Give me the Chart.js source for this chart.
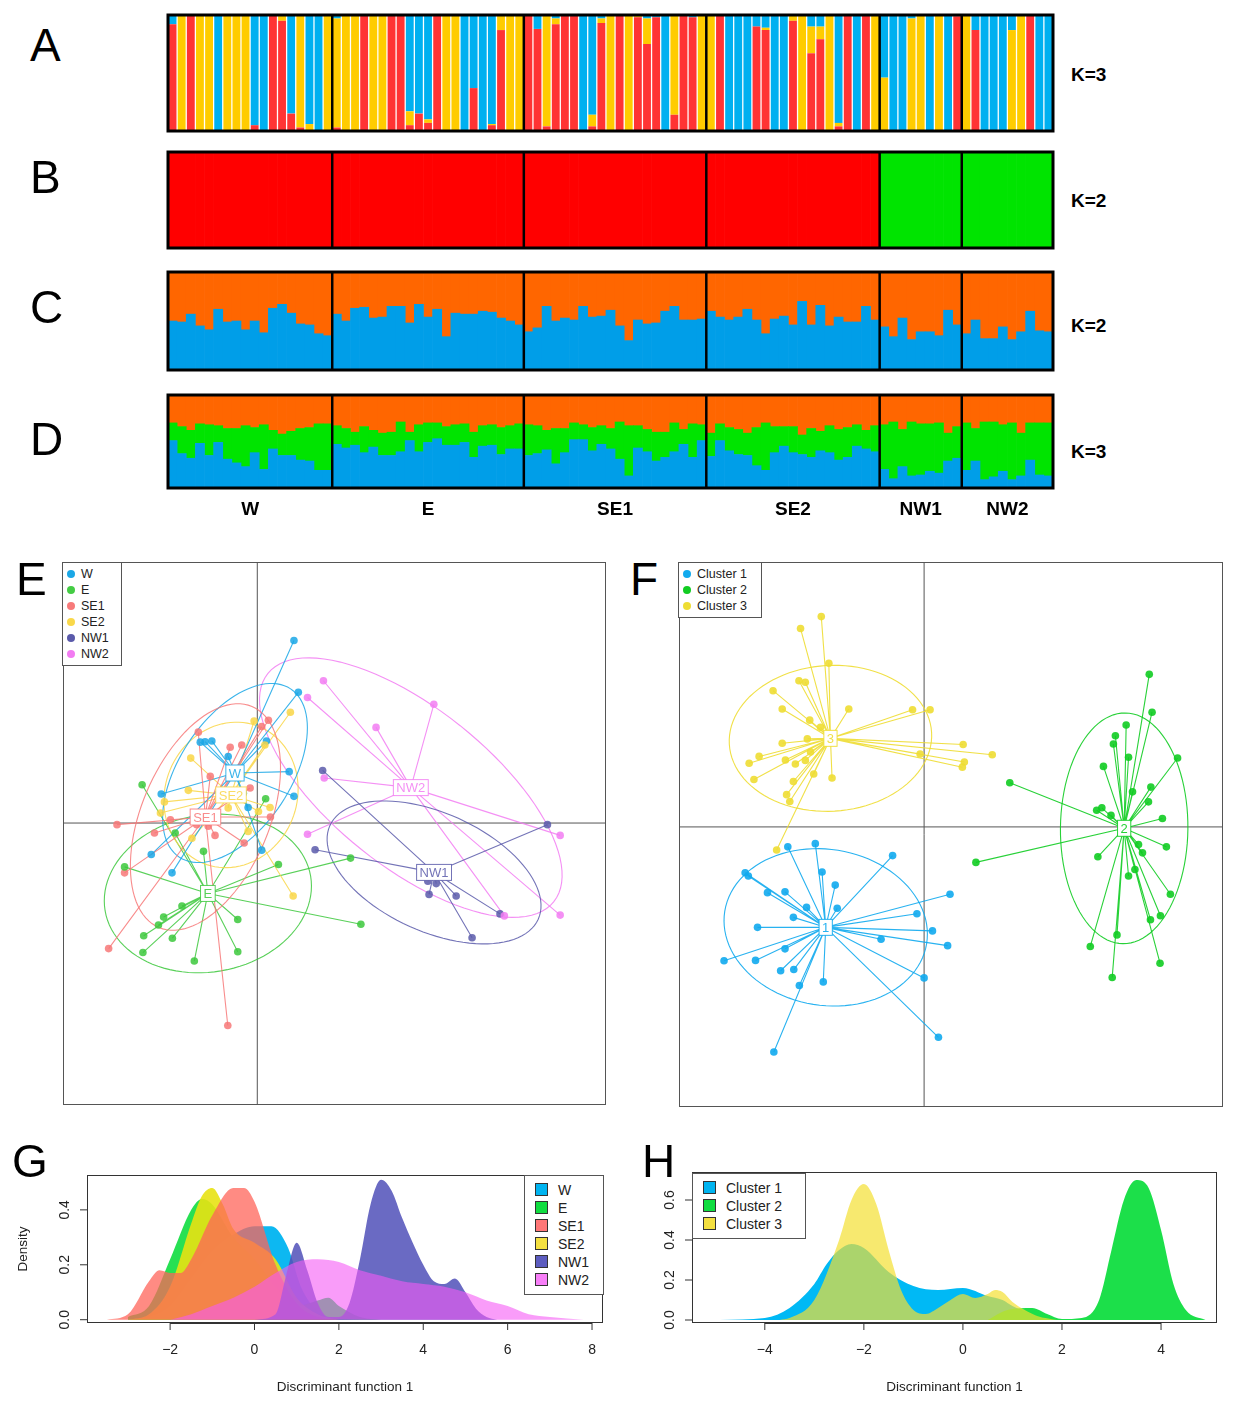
<!DOCTYPE html>
<html>
<head>
<meta charset="utf-8">
<script src="https://cdn.jsdelivr.net/npm/chart.js@4.4.1/dist/chart.umd.min.js"></script>
<style>
body { margin: 0; background: #fff; font-family: "Liberation Sans", Arial, sans-serif; }
#pagina { position: relative; width: 1234px; height: 1406px; overflow: hidden; }
canvas, .txt, .leg { position: absolute; }
.letra { font-size: 46px; color: #000; }
.k { font-size: 19px; font-weight: bold; }
.leg { border: 1px solid #555; background: #fff; font-size: 12.5px; color: #222; }
.leg div { height: 16px; line-height: 16px; white-space: nowrap; }
.pt { display: inline-block; width: 8px; height: 8px; border-radius: 50%; margin: 0 6px 0 4px; }
.sq { display: inline-block; width: 11px; height: 11px; border: 1px solid #333; margin: 0 10px 0 10px; vertical-align: -1px; }
.legG { font-size: 14px; }
.legG div { height: 18px; line-height: 18px; }
</style>
</head>
<body>
<div id="pagina">
  <canvas id="cA" width="895" height="126" style="left:163px;top:10px"></canvas>
  <canvas id="cB" width="895" height="106" style="left:163px;top:147px"></canvas>
  <canvas id="cC" width="895" height="108" style="left:163px;top:267px"></canvas>
  <canvas id="cD" width="895" height="145" style="left:163px;top:390px"></canvas>
  <canvas id="cE" width="551" height="551" style="left:59px;top:558px"></canvas>
  <canvas id="cF" width="552" height="553" style="left:675px;top:558px"></canvas>
  <canvas id="cG" width="615" height="236" style="left:0px;top:1170px"></canvas>
  <canvas id="cH" width="624" height="236" style="left:610px;top:1170px"></canvas>

  <div class="txt letra" style="left:30px;top:18px">A</div>
  <div class="txt letra" style="left:30px;top:150px">B</div>
  <div class="txt letra" style="left:30px;top:280px">C</div>
  <div class="txt letra" style="left:30px;top:412px">D</div>
  <div class="txt letra" style="left:16px;top:552px">E</div>
  <div class="txt letra" style="left:630px;top:552px">F</div>
  <div class="txt letra" style="left:12px;top:1134px">G</div>
  <div class="txt letra" style="left:642px;top:1134px">H</div>
  <div class="txt k" style="left:1071px;top:64px">K=3</div>
  <div class="txt k" style="left:1071px;top:190px">K=2</div>
  <div class="txt k" style="left:1071px;top:315px">K=2</div>
  <div class="txt k" style="left:1071px;top:441px">K=3</div>

  <div class="leg" style="left:62px;top:562px;width:58px;padding:3px 0">
    <div><span class="pt" style="background:#1aa7e6"></span>W</div>
    <div><span class="pt" style="background:#44cc44"></span>E</div>
    <div><span class="pt" style="background:#f77a7a"></span>SE1</div>
    <div><span class="pt" style="background:#f9d84a"></span>SE2</div>
    <div><span class="pt" style="background:#5a5aaa"></span>NW1</div>
    <div><span class="pt" style="background:#f27cf2"></span>NW2</div>
  </div>
  <div class="leg" style="left:678px;top:562px;width:82px;padding:3px 0">
    <div><span class="pt" style="background:#11aaee"></span>Cluster 1</div>
    <div><span class="pt" style="background:#11cc22"></span>Cluster 2</div>
    <div><span class="pt" style="background:#eedd33"></span>Cluster 3</div>
  </div>
  <div class="leg legG" style="left:524px;top:1175px;width:78px;padding:5px 0">
    <div><span class="sq" style="background:#00b4f0"></span>W</div>
    <div><span class="sq" style="background:#10dd40"></span>E</div>
    <div><span class="sq" style="background:#ff7777"></span>SE1</div>
    <div><span class="sq" style="background:#f4e040"></span>SE2</div>
    <div><span class="sq" style="background:#5c5cbf"></span>NW1</div>
    <div><span class="sq" style="background:#f77ef7"></span>NW2</div>
  </div>
  <div class="leg legG" style="left:692px;top:1173px;width:112px;padding:5px 0">
    <div><span class="sq" style="background:#00b4f0"></span>Cluster 1</div>
    <div><span class="sq" style="background:#10dd40"></span>Cluster 2</div>
    <div><span class="sq" style="background:#f4e040"></span>Cluster 3</div>
  </div>
</div>
<script>
// grupos e tamanhos (mesma ordem em A-D)
const grupos = ['W', 'E', 'SE1', 'SE2', 'NW1', 'NW2'];
const tamanhos = [18, 21, 20, 19, 9, 10];

// A: K=3 (vermelho, amarelo; azul = resto)
const aVermelho = [
    .92, 0, 1, 0, 0, 0, 0, 0, 0, .05, 0, 1, .95, .15, .03, 0, 0, 0,
    .03, 0, 0, 1, 0, 0, 1, 1, .05, .15, .07, 1, 0, 0, 0, .37, 0, .05, .87, 0, 0,
    1, .88, .04, .92, 1, 1, 0, .04, .93, 0, 1, 0, .98, .75, .98, 0, .14, 1, .98, 0,
    0, 1, 0, 0, 0, .9, .87, 0, 0, .95, 0, .67, .79, 0, .04, 1, 0, 1, 0,
    0, 0, 0, 0, 0, 0, 0, 0, .99,
    0, .87, 0, 0, 0, 0, 0, 1, 0, 0
];
const aAmarelo = [
    0, 1, 0, 1, 1, 0, 1, 1, 1, 0, 0, 0, .05, 0, .97, .06, 0, 1,
    .94, 1, 1, 0, 1, 1, 0, 0, .12, 0, .03, 0, 1, 1, 0, 0, 0, .01, .13, 1, 1,
    0, 0, .96, .05, 0, 0, 0, .1, .04, 1, 0, 1, .02, .22, 0, 0, .86, 0, 0, 1,
    1, 0, 0, 0, 0, 0, .02, 0, 0, .05, 1, .23, .11, 1, .03, 0, 0, 0, 1,
    .46, 0, 0, .97, 1, 0, 1, 0, 0,
    1, 0, 0, 0, 0, .87, 1, 0, 0, 0
];

// B: K=2, cluster por grupo (1 = vermelho, 2 = verde)
const bClusterGrupo = [1, 1, 1, 1, 2, 2];

// C: K=2, fração azul
const cAzul = [
    .50, .49, .57, .45, .41, .62, .49, .50, .41, .50, .38, .63, .67, .58, .47, .46, .37, .35,
    .57, .50, .63, .64, .53, .54, .65, .65, .48, .67, .54, .62, .34, .58, .57, .57, .60, .59, .53, .50, .46,
    .39, .43, .65, .50, .53, .51, .65, .54, .55, .61, .45, .30, .51, .47, .48, .60, .65, .51, .51, .52,
    .60, .54, .51, .54, .62, .51, .37, .52, .55, .46, .70, .46, .66, .45, .54, .49, .49, .65, .51,
    .44, .34, .53, .31, .39, .39, .35, .61, .46,
    .37, .51, .32, .32, .44, .31, .39, .60, .40, .39
];

// D: K=3, fração azul e laranja (verde = resto)
const dAzul = [
    .51, .37, .32, .48, .35, .49, .31, .27, .23, .38, .20, .42, .35, .35, .30, .29, .19, .19,
    .47, .43, .46, .38, .44, .35, .35, .39, .51, .39, .49, .53, .46, .46, .49, .33, .45, .46, .36, .42, .42,
    .35, .37, .41, .26, .38, .52, .52, .40, .47, .42, .31, .13, .43, .39, .29, .33, .39, .47, .33, .51,
    .34, .51, .40, .36, .35, .24, .19, .38, .45, .38, .36, .33, .40, .38, .30, .33, .45, .42, .39,
    .20, .10, .23, .13, .14, .18, .16, .29, .32,
    .19, .29, .09, .12, .18, .09, .13, .30, .14, .13
];
const dLaranja = [
    .30, .34, .38, .31, .32, .33, .36, .36, .33, .35, .32, .38, .42, .39, .36, .35, .31, .31,
    .33, .36, .40, .34, .38, .41, .40, .29, .40, .32, .30, .30, .34, .32, .31, .40, .33, .32, .35, .33, .31,
    .32, .33, .38, .36, .36, .30, .32, .35, .33, .36, .29, .33, .33, .37, .40, .40, .30, .37, .31, .32,
    .41, .31, .35, .37, .41, .35, .30, .34, .34, .34, .43, .36, .39, .33, .37, .35, .32, .38, .33,
    .32, .29, .37, .29, .31, .31, .30, .41, .34,
    .30, .36, .29, .29, .32, .30, .41, .30, .30, .30
];

// E: funções discriminantes 1 e 2 por população
const eW = [[0.92, 4.58], [1.03, 3.28], [-1.14, 2.06], [-1.31, 2.04], [-1.43, 2.03], [-0.73, 1.67], [0.80, 1.29], [0.92, 0.67], [-2.41, 0.73], [-0.35, 0.75], [-0.23, 0.39], [0.11, -0.68], [-2.66, -0.79], [-2.14, -1.25], [0.23, 2.06]];
const eE = [[-2.89, 0.96], [0.21, 0.61], [-1.35, -0.71], [-2.06, -0.25], [-3.33, -1.10], [0.53, -1.04], [-1.89, -2.08], [-2.35, -2.36], [-2.48, -2.56], [-2.85, -2.83], [-2.13, -2.89], [-2.87, -3.25], [-1.58, -3.46], [-0.49, -2.42], [-0.49, -3.23], [2.34, -0.88], [2.60, -2.54]];
const eSE1 = [[-1.48, 2.28], [0.11, 2.42], [0.28, 2.58], [-0.39, 1.96], [-0.68, 1.90], [-0.18, 0.88], [0.33, 0.15], [-0.33, -0.50], [-1.06, -0.31], [-1.23, -0.08], [-2.58, -0.25], [-3.52, -0.04], [-3.33, -1.25], [-3.73, -3.15], [-0.74, -5.08], [-2.18, 0.08], [-1.52, -0.04], [-1.18, 1.17]];
const eSE2 = [[-0.08, 2.56], [0.83, 2.78], [0.19, 1.96], [-1.67, 1.63], [-1.73, 0.82], [-2.33, 0.53], [-2.43, 0.25], [0.32, 0.39], [0.03, 0.29], [-0.23, -0.21], [-1.64, -0.38], [0.90, -1.83], [-0.73, 0.38]];
const eNW1 = [[1.64, 1.32], [1.45, -0.67], [7.28, -0.04], [4.31, -1.79], [4.49, -1.52], [4.28, -1.46], [4.99, -1.83], [6.09, -2.28], [5.39, -2.88]];
const eNW2 = [[1.66, 3.57], [1.26, 3.15], [2.98, 2.40], [4.43, 2.98], [1.68, 1.13], [1.26, -0.28], [7.60, -0.31], [6.20, -2.33], [7.60, -2.31]];

// F: clusters
const fC1 = [[-3.42, -0.50], [-2.73, -0.42], [-0.79, -0.72], [-4.49, -1.15], [-4.41, -1.23], [-2.56, -1.13], [-2.23, -1.46], [-3.93, -1.65], [-3.49, -1.63], [-2.95, -2.02], [-2.18, -2.04], [0.65, -1.69], [-0.18, -2.18], [-3.28, -2.27], [-4.18, -2.52], [0.21, -2.61], [-1.08, -2.82], [0.59, -2.98], [-3.49, -3.06], [-5.02, -3.36], [-4.23, -3.35], [-3.27, -3.58], [-3.60, -3.61], [0.00, -3.79], [-2.53, -3.89], [-3.13, -3.98], [0.36, -5.28], [-3.77, -5.65]];
const fC2 = [[5.65, 3.83], [5.72, 2.88], [5.07, 2.56], [4.80, 2.29], [4.75, 2.08], [5.13, 1.75], [4.50, 1.52], [6.36, 1.73], [2.15, 1.11], [5.69, 1.00], [5.23, 0.88], [5.63, 0.63], [4.33, 0.42], [4.46, 0.48], [4.69, 0.29], [5.98, 0.21], [6.08, -0.50], [5.38, -0.44], [5.48, -0.65], [4.36, -0.75], [5.29, -1.07], [5.13, -1.23], [6.18, -1.69], [1.30, -0.89], [5.93, -2.23], [5.68, -2.33], [4.84, -2.71], [4.17, -3.00], [5.92, -3.42], [4.72, -3.78]];
const fC3 = [[-2.58, 5.28], [-3.10, 4.98], [-2.39, 4.11], [-3.14, 3.67], [-2.98, 3.63], [-3.79, 3.42], [-3.56, 2.96], [-1.89, 2.96], [-0.29, 2.94], [0.15, 2.94], [-2.87, 2.68], [-2.60, 2.50], [-3.56, 2.10], [-2.93, 2.21], [-4.14, 1.77], [-4.39, 1.60], [-3.48, 1.68], [-3.23, 1.58], [-2.98, 1.67], [-2.85, 1.88], [-4.27, 1.19], [-3.28, 1.14], [-2.77, 1.33], [-2.31, 1.23], [-3.45, 0.81], [-3.37, 0.64], [-0.10, 1.83], [0.98, 2.07], [1.71, 1.81], [1.01, 1.63], [0.96, 1.50], [-3.70, -0.58]];

// G: densidades (x, densidade)
const gW = [[-3, 0], [-2.5, 0.01], [-2, 0.05], [-1.5, 0.15], [-1, 0.25], [-0.5, 0.31], [0, 0.34], [0.4, 0.34], [0.8, 0.26], [1.1, 0.12], [1.5, 0.03], [2, 0.005], [2.5, 0]];
const gE = [[-3, 0.01], [-2.5, 0.05], [-2, 0.22], [-1.5, 0.40], [-1.25, 0.44], [-1, 0.42], [-0.5, 0.30], [0, 0.22], [0.5, 0.12], [1, 0.05], [1.5, 0.07], [1.75, 0.08], [2, 0.05], [2.5, 0.01], [3, 0]];
const gSE1 = [[-3.5, 0], [-3, 0.02], [-2.5, 0.14], [-2.25, 0.18], [-2, 0.17], [-1.75, 0.17], [-1.5, 0.22], [-1, 0.38], [-0.5, 0.48], [-0.25, 0.48], [0, 0.43], [0.5, 0.20], [1, 0.06], [1.5, 0.01], [2, 0]];
const gSE2 = [[-3, 0], [-2.5, 0.02], [-2, 0.12], [-1.5, 0.35], [-1.25, 0.45], [-1, 0.48], [-0.75, 0.42], [-0.5, 0.33], [0, 0.28], [0.5, 0.22], [1, 0.08], [1.5, 0.02], [2, 0]];
const gNW1 = [[0, 0], [0.5, 0.02], [0.75, 0.16], [1, 0.28], [1.25, 0.18], [1.5, 0.06], [1.75, 0.01], [2, 0.01], [2.25, 0.06], [2.5, 0.22], [2.75, 0.42], [3, 0.51], [3.25, 0.47], [3.5, 0.37], [3.75, 0.28], [4, 0.20], [4.25, 0.14], [4.5, 0.13], [4.75, 0.15], [5, 0.10], [5.25, 0.04], [5.5, 0.01], [5.75, 0]];
const gNW2 = [[-2, 0], [-1.5, 0.02], [-1, 0.05], [-0.5, 0.08], [0, 0.12], [0.5, 0.17], [1, 0.21], [1.5, 0.22], [2, 0.21], [2.5, 0.18], [3, 0.16], [3.5, 0.14], [4, 0.13], [4.5, 0.12], [5, 0.10], [5.5, 0.07], [6, 0.05], [6.5, 0.02], [7, 0.01], [7.8, 0]];

// H: densidades por cluster
const hC1 = [[-4.9, 0], [-4, 0.01], [-3.5, 0.06], [-3, 0.18], [-2.75, 0.28], [-2.5, 0.35], [-2.25, 0.38], [-2, 0.36], [-1.5, 0.24], [-1, 0.17], [-0.5, 0.15], [0, 0.16], [0.5, 0.12], [0.8, 0.10], [1, 0.07], [1.5, 0.02], [1.9, 0]];
const hC2 = [[0.5, 0], [0.9, 0.05], [1.4, 0.06], [1.7, 0.03], [2, 0.005], [2.4, 0.01], [2.75, 0.10], [3, 0.35], [3.25, 0.60], [3.5, 0.70], [3.75, 0.66], [4, 0.45], [4.25, 0.18], [4.5, 0.05], [4.9, 0]];
const hC3 = [[-3.7, 0], [-3.5, 0.01], [-3, 0.10], [-2.5, 0.40], [-2.25, 0.60], [-2, 0.68], [-1.75, 0.58], [-1.5, 0.35], [-1.25, 0.15], [-1, 0.05], [-0.75, 0.03], [-0.5, 0.06], [-0.25, 0.10], [0, 0.13], [0.25, 0.11], [0.5, 0.13], [0.65, 0.15], [0.8, 0.14], [1, 0.09], [1.25, 0.05], [1.5, 0.02], [1.9, 0]];

const gTicksX = [-2, 0, 2, 4, 6, 8];
const gTicksY = [0, 0.2, 0.4];
const hTicksX = [-4, -2, 0, 2, 4];
const hTicksY = [0, 0.2, 0.4, 0.6];

const FONTE = '"Liberation Sans", Arial, sans-serif';
const rotulosAmostras = tamanhos.flatMap((n, g) => Array.from({ length: n }, (_, i) => `${grupos[g]}${i + 1}`));

const molduraEstrutura = {
    id: 'molduraEstrutura',
    afterDraw(chart, args, opts) {
        const { ctx, chartArea: a, scales: { x } } = chart;
        ctx.save();
        ctx.strokeStyle = '#000';
        ctx.lineWidth = 3;
        ctx.strokeRect(a.left, a.top, a.right - a.left, a.bottom - a.top);
        ctx.lineWidth = 2.5;
        let indice = 0;
        const centros = [];
        tamanhos.forEach((n, g) => {
            const inicio = g === 0 ? a.left : (x.getPixelForValue(indice - 1) + x.getPixelForValue(indice)) / 2;
            const fim = g === tamanhos.length - 1 ? a.right : (x.getPixelForValue(indice + n - 1) + x.getPixelForValue(indice + n)) / 2;
            centros.push((inicio + fim) / 2);
            if (g > 0) {
                ctx.beginPath();
                ctx.moveTo(inicio, a.top);
                ctx.lineTo(inicio, a.bottom);
                ctx.stroke();
            }
            indice += n;
        });
        if (opts.rotulos) {
            ctx.fillStyle = '#000';
            ctx.font = `bold 19px ${FONTE}`;
            ctx.textAlign = 'center';
            ctx.textBaseline = 'middle';
            centros.forEach((c, g) => ctx.fillText(grupos[g], c, a.bottom + 22));
        }
        ctx.restore();
    }
};

function criarEstrutura(id, series, opcoes = {}) {
    new Chart(document.getElementById(id), {
        type: 'bar',
        data: {
            labels: rotulosAmostras,
            datasets: series.map(s => ({
                data: s.data,
                backgroundColor: s.cor,
                borderWidth: 0,
                barPercentage: opcoes.barra ?? 1,
                categoryPercentage: 1
            }))
        },
        options: {
            responsive: false,
            animation: false,
            layout: { padding: { left: 5, right: 5, top: 5, bottom: opcoes.rotulos ? 47 : 5 } },
            plugins: { legend: { display: false }, tooltip: { enabled: false }, molduraEstrutura: { rotulos: !!opcoes.rotulos } },
            scales: {
                x: { display: false, stacked: true },
                y: { display: false, stacked: true, min: 0, max: 1 }
            }
        },
        plugins: [molduraEstrutura]
    });
}

const aAzul = aVermelho.map((v, i) => Math.max(0, 1 - v - aAmarelo[i]));
criarEstrutura('cA', [
    { data: aVermelho, cor: '#ff3434' },
    { data: aAmarelo, cor: '#ffcc00' },
    { data: aAzul, cor: '#00b0f0' }
], { barra: 0.86 });

const bVermelho = tamanhos.flatMap((n, g) => Array(n).fill(bClusterGrupo[g] === 1 ? 1 : 0));
criarEstrutura('cB', [
    { data: bVermelho, cor: '#ff0000' },
    { data: bVermelho.map(v => 1 - v), cor: '#00e400' }
]);

criarEstrutura('cC', [
    { data: cAzul, cor: '#009ee8' },
    { data: cAzul.map(v => 1 - v), cor: '#ff6600' }
]);

criarEstrutura('cD', [
    { data: dAzul, cor: '#009ee8' },
    { data: dAzul.map((v, i) => 1 - v - dLaranja[i]), cor: '#00e400' },
    { data: dLaranja, cor: '#ff6600' }
], { rotulos: true });

// dispersão com elipses, estrelas e rótulos de grupo
function estatisticas(pontos) {
    const n = pontos.length;
    const mx = pontos.reduce((s, p) => s + p[0], 0) / n;
    const my = pontos.reduce((s, p) => s + p[1], 0) / n;
    let sxx = 0, syy = 0, sxy = 0;
    pontos.forEach(p => {
        sxx += (p[0] - mx) ** 2;
        syy += (p[1] - my) ** 2;
        sxy += (p[0] - mx) * (p[1] - my);
    });
    sxx /= n; syy /= n; sxy /= n;
    const tr = sxx + syy, det = sxx * syy - sxy * sxy;
    const l1 = tr / 2 + Math.sqrt(tr * tr / 4 - det);
    const l2 = tr / 2 - Math.sqrt(tr * tr / 4 - det);
    const ang = Math.atan2(l1 - sxx, sxy || 1e-9);
    return { mx, my, r1: 1.5 * Math.sqrt(l1), r2: 1.5 * Math.sqrt(Math.max(l2, 0)), ang };
}

const desenhoGrupos = {
    id: 'desenhoGrupos',
    beforeDatasetsDraw(chart) {
        const { ctx, chartArea: a, scales: { x, y } } = chart;
        ctx.save();
        ctx.strokeStyle = '#555';
        ctx.lineWidth = 1;
        ctx.strokeRect(a.left + 0.5, a.top + 0.5, a.right - a.left - 1, a.bottom - a.top - 1);
        ctx.beginPath();
        ctx.moveTo(x.getPixelForValue(0), a.top);
        ctx.lineTo(x.getPixelForValue(0), a.bottom);
        ctx.moveTo(a.left, y.getPixelForValue(0));
        ctx.lineTo(a.right, y.getPixelForValue(0));
        ctx.stroke();
        chart.data.datasets.forEach(ds => {
            const st = estatisticas(ds.pontos);
            ds.st = st;
            ctx.strokeStyle = ds.cor;
            ctx.lineWidth = 1.1;
            ctx.beginPath();
            for (let t = 0; t <= 100; t++) {
                const th = t / 100 * 2 * Math.PI;
                const ex = st.mx + st.r1 * Math.cos(th) * Math.cos(st.ang) - st.r2 * Math.sin(th) * Math.sin(st.ang);
                const ey = st.my + st.r1 * Math.cos(th) * Math.sin(st.ang) + st.r2 * Math.sin(th) * Math.cos(st.ang);
                const px = x.getPixelForValue(ex), py = y.getPixelForValue(ey);
                if (t === 0) ctx.moveTo(px, py); else ctx.lineTo(px, py);
            }
            ctx.stroke();
            ctx.beginPath();
            ds.pontos.forEach(p => {
                ctx.moveTo(x.getPixelForValue(st.mx), y.getPixelForValue(st.my));
                ctx.lineTo(x.getPixelForValue(p[0]), y.getPixelForValue(p[1]));
            });
            ctx.stroke();
        });
        ctx.restore();
    },
    afterDatasetsDraw(chart) {
        const { ctx, scales: { x, y } } = chart;
        ctx.save();
        ctx.font = `13px ${FONTE}`;
        ctx.textAlign = 'center';
        ctx.textBaseline = 'middle';
        chart.data.datasets.forEach(ds => {
            const px = x.getPixelForValue(ds.st.mx), py = y.getPixelForValue(ds.st.my);
            const w = ctx.measureText(ds.rotulo).width + 6;
            ctx.fillStyle = '#fff';
            ctx.fillRect(px - w / 2, py - 8, w, 16);
            ctx.strokeStyle = ds.cor;
            ctx.lineWidth = 1;
            ctx.strokeRect(px - w / 2, py - 8, w, 16);
            ctx.fillStyle = ds.cor;
            ctx.fillText(ds.rotulo, px, py + 1);
        });
        ctx.restore();
    }
};

function criarDispersao(id, grupos, limites) {
    new Chart(document.getElementById(id), {
        type: 'scatter',
        data: {
            datasets: grupos.map(g => ({
                pontos: g.pontos,
                rotulo: g.rotulo,
                cor: g.cor,
                data: g.pontos.map(p => ({ x: p[0], y: p[1] })),
                backgroundColor: g.cor,
                borderWidth: 0,
                pointRadius: 3.8
            }))
        },
        options: {
            responsive: false,
            animation: false,
            layout: { padding: 3 },
            plugins: { legend: { display: false }, tooltip: { enabled: false } },
            scales: {
                x: { display: false, min: limites[0], max: limites[1] },
                y: { display: false, min: limites[2], max: limites[3] }
            }
        },
        plugins: [desenhoGrupos]
    });
}

criarDispersao('cE', [
    { pontos: eNW2, rotulo: 'NW2', cor: 'rgba(242,124,242,0.85)' },
    { pontos: eNW1, rotulo: 'NW1', cor: 'rgba(90,90,170,0.85)' },
    { pontos: eE, rotulo: 'E', cor: 'rgba(60,200,60,0.85)' },
    { pontos: eSE2, rotulo: 'SE2', cor: 'rgba(249,214,70,0.85)' },
    { pontos: eW, rotulo: 'W', cor: 'rgba(26,167,230,0.85)' },
    { pontos: eSE1, rotulo: 'SE1', cor: 'rgba(247,120,120,0.85)' }
], [-4.875, 8.75, -7.075, 6.55]);

criarDispersao('cF', [
    { pontos: fC1, rotulo: '1', cor: 'rgba(17,170,238,0.9)' },
    { pontos: fC2, rotulo: '2', cor: 'rgba(17,204,34,0.9)' },
    { pontos: fC3, rotulo: '3', cor: 'rgba(238,221,51,0.9)' }
], [-6.15, 7.5, -7.03, 6.65]);

// densidades
const eixosDensidade = {
    id: 'eixosDensidade',
    afterDraw(chart, args, opts) {
        const { ctx, chartArea: a, scales: { x, y } } = chart;
        ctx.save();
        ctx.strokeStyle = '#333';
        ctx.lineWidth = 1;
        ctx.strokeRect(a.left + 0.5, a.top + 0.5, a.right - a.left - 1, a.bottom - a.top - 1);
        ctx.fillStyle = '#222';
        ctx.font = `14px ${FONTE}`;
        ctx.beginPath();
        const x0 = x.getPixelForValue(opts.tx[0]), x1 = x.getPixelForValue(opts.tx[opts.tx.length - 1]);
        ctx.moveTo(x0, a.bottom + 0.5);
        ctx.lineTo(x1, a.bottom + 0.5);
        ctx.textAlign = 'center';
        ctx.textBaseline = 'middle';
        opts.tx.forEach(t => {
            const px = x.getPixelForValue(t);
            ctx.moveTo(px, a.bottom);
            ctx.lineTo(px, a.bottom + 7);
            ctx.fillText(t < 0 ? '\u2212' + Math.abs(t) : String(t), px, a.bottom + 27);
        });
        const y0 = y.getPixelForValue(opts.ty[0]), y1 = y.getPixelForValue(opts.ty[opts.ty.length - 1]);
        ctx.moveTo(a.left + 0.5, y0);
        ctx.lineTo(a.left + 0.5, y1);
        opts.ty.forEach(t => {
            const py = y.getPixelForValue(t);
            ctx.moveTo(a.left, py);
            ctx.lineTo(a.left - 7, py);
        });
        ctx.stroke();
        opts.ty.forEach(t => {
            ctx.save();
            ctx.translate(a.left - 22, y.getPixelForValue(t));
            ctx.rotate(-Math.PI / 2);
            ctx.fillText(t.toFixed(1), 0, 0);
            ctx.restore();
        });
        ctx.font = `13.5px ${FONTE}`;
        ctx.fillText('Discriminant function 1', (a.left + a.right) / 2, a.bottom + 64);
        if (opts.tituloY) {
            ctx.save();
            ctx.translate(a.left - 64, (a.top + a.bottom) / 2);
            ctx.rotate(-Math.PI / 2);
            ctx.fillText('Density', 0, 0);
            ctx.restore();
        }
        ctx.restore();
    }
};

function criarDensidade(id, series, limites, padding, eixos) {
    new Chart(document.getElementById(id), {
        type: 'line',
        data: {
            datasets: series.map((s, i) => ({
                data: s.data.map(p => ({ x: p[0], y: p[1] })),
                backgroundColor: s.cor,
                borderWidth: 0,
                pointRadius: 0,
                fill: 'origin',
                order: series.length - i,
                cubicInterpolationMode: 'monotone'
            }))
        },
        options: {
            responsive: false,
            animation: false,
            layout: { padding },
            plugins: { legend: { display: false }, tooltip: { enabled: false }, eixosDensidade: eixos },
            scales: {
                x: { type: 'linear', display: false, min: limites[0], max: limites[1] },
                y: { display: false, min: limites[2], max: limites[3] }
            }
        },
        plugins: [eixosDensidade]
    });
}

criarDensidade('cG', [
    { data: gW, cor: 'rgba(0,180,240,0.95)' },
    { data: gE, cor: 'rgba(16,221,64,0.9)' },
    { data: gSE2, cor: 'rgba(232,226,20,0.9)' },
    { data: gSE1, cor: 'rgba(255,100,90,0.75)' },
    { data: gNW1, cor: 'rgba(80,80,185,0.85)' },
    { data: gNW2, cor: 'rgba(245,90,245,0.6)' }
], [-3.97, 8.26, -0.012, 0.527], { left: 87, right: 12, top: 5, bottom: 83 },
    { tx: gTicksX, ty: gTicksY, tituloY: true });

criarDensidade('cH', [
    { data: hC1, cor: 'rgba(0,185,245,1)' },
    { data: hC2, cor: 'rgba(16,221,64,0.95)' },
    { data: hC3, cor: 'rgba(244,224,50,0.7)' }
], [-5.47, 5.13, -0.015, 0.74], { left: 82, right: 17, top: 2, bottom: 83 },
    { tx: hTicksX, ty: hTicksY, tituloY: false });
</script>
</body>
</html>
